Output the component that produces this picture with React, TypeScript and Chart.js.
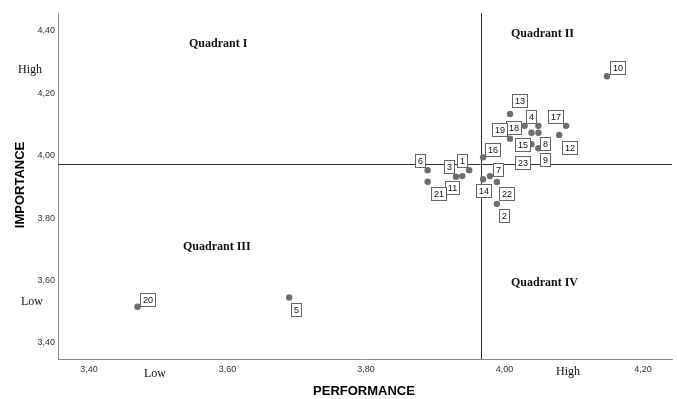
import React, { useEffect, useRef } from "react";
import { Chart, registerables } from "chart.js";

Chart.register(...registerables);

// ---- data ----
const pointIds = ["1","2","3","4","5","6","7","8","9","10","11","12","13","14","15","16","17","18","19","20","21","22","23"];
const performance = [3.949,3.989,3.930,4.029,3.689,3.889,3.979,4.049,4.049,4.148,3.939,4.079,4.008,3.969,4.039,3.969,4.089,4.049,4.008,3.470,3.889,3.989,4.039];
const importance = [3.954,3.846,3.933,4.096,3.546,3.954,3.935,4.074,4.024,4.255,3.935,4.067,4.134,3.925,4.074,3.995,4.096,4.096,4.055,3.516,3.917,3.916,4.037];
const xTickValues = [3.4, 3.6, 3.8, 4.0, 4.2];
const yTickValues = [3.4, 3.6, 3.8, 4.0, 4.2, 4.4];
const performanceMean = 3.966;
const importanceMean = 3.973;
const quadrantNames = ["Quadrant I", "Quadrant II", "Quadrant III", "Quadrant IV"];

// ---- label box placement (layout only, px offsets from point) ----
const labelOffsets: [number, number][] = [
  [-7,-10],[7,11],[-7,-11],[6,-10],[7,12],[-8,-10],[8,-7],[7,10],[7,11],[10,-9],
  [-10,11],[10,12],[9,-14],[0,11],[-10,11],[9,-8],[-11,-10],[-25,1],[-11,-10],[10,-8],
  [10,11],[9,11],[-10,18],
];

const fmt = (v: number) => v.toFixed(2).replace(".", ",");

export default function App() {
  const ref = useRef<HTMLCanvasElement | null>(null);

  useEffect(() => {
    if (!ref.current) return;
    const overlay = {
      id: "overlay",
      beforeDatasetsDraw(chart: any) {
        const { ctx, chartArea, scales } = chart;
        const xs = scales.x, ys = scales.y;
        ctx.save();
        ctx.strokeStyle = "#333333";
        ctx.lineWidth = 1;
        const vx = Math.round(xs.getPixelForValue(performanceMean)) + 0.5;
        const hy = Math.round(ys.getPixelForValue(importanceMean)) + 0.5;
        ctx.beginPath();
        ctx.moveTo(vx, chartArea.top);
        ctx.lineTo(vx, chartArea.bottom);
        ctx.moveTo(chartArea.left, hy);
        ctx.lineTo(chartArea.right, hy);
        ctx.stroke();
        ctx.restore();
      },
      afterDatasetsDraw(chart: any) {
        const { ctx, scales } = chart;
        const xs = scales.x, ys = scales.y;
        ctx.save();
        // point labels
        ctx.font = "9px 'Liberation Sans', Arial, sans-serif";
        ctx.textAlign = "center";
        ctx.textBaseline = "middle";
        pointIds.forEach((id, i) => {
          const px = xs.getPixelForValue(performance[i]);
          const py = ys.getPixelForValue(importance[i]);
          const [dx, dy] = labelOffsets[i];
          const cx = Math.round(px + dx);
          const cy = Math.round(py + dy);
          const w = Math.ceil(ctx.measureText(id).width) + 4;
          const h = 13;
          const left = Math.round(cx - w / 2) + 0.5;
          const top = Math.round(cy - h / 2) + 0.5;
          ctx.fillStyle = "#ffffff";
          ctx.fillRect(left, top, w, h);
          ctx.strokeStyle = "#666666";
          ctx.lineWidth = 1;
          ctx.strokeRect(left, top, w, h);
          ctx.fillStyle = "#111111";
          ctx.fillText(id, left + w / 2, top + h / 2 + 0.5);
        });
        // quadrant labels
        ctx.font = "bold 12px 'Liberation Serif', 'Times New Roman', serif";
        ctx.fillStyle = "#111111";
        ctx.textAlign = "left";
        ctx.textBaseline = "middle";
        ctx.fillText(quadrantNames[0], 189, 44);
        ctx.fillText(quadrantNames[1], 511, 34);
        ctx.fillText(quadrantNames[2], 183, 247);
        ctx.fillText(quadrantNames[3], 511, 283);
        // High / Low
        ctx.font = "12px 'Liberation Serif', 'Times New Roman', serif";
        ctx.textAlign = "center";
        ctx.fillText("High", 30, 70);
        ctx.fillText("Low", 32, 302);
        ctx.fillText("Low", 155, 374);
        ctx.fillText("High", 568, 372);
        // axis titles
        ctx.font = "bold 13px 'Liberation Sans', Arial, sans-serif";
        ctx.fillStyle = "#000000";
        ctx.fillText("PERFORMANCE", 364, 391);
        ctx.save();
        ctx.translate(20, 185);
        ctx.rotate(-Math.PI / 2);
        ctx.fillText("IMPORTANCE", 0, 0);
        ctx.restore();
        ctx.restore();
      },
    };

    const chart = new Chart(ref.current, {
      type: "scatter",
      data: {
        datasets: [
          {
            label: "Items",
            data: performance.map((x, i) => ({ x, y: importance[i] })),
            backgroundColor: "#6e6e6e",
            borderWidth: 0,
            pointRadius: 3.2,
            pointHoverRadius: 3.2,
          },
        ],
      },
      options: {
        animation: false,
        responsive: false,
        devicePixelRatio: 1,
        layout: { padding: { left: 0, right: 5, top: 13, bottom: 0 } },
        plugins: { legend: { display: false }, tooltip: { enabled: false } },
        scales: {
          x: {
            type: "linear",
            min: 3.3552,
            max: 4.2419,
            grid: { display: false, drawTicks: false },
            border: { display: true, color: "#8c8c8c", width: 1 },
            afterBuildTicks: (s: any) => { s.ticks = xTickValues.map((v) => ({ value: v })); },
            afterFit: (s: any) => { s.height = 40; },
            ticks: {
              autoSkip: false,
              maxRotation: 0,
              padding: 5,
              color: "#333333",
              font: { size: 9, family: "'Liberation Sans', Arial, sans-serif" },
              callback: (v: any) => fmt(Number(v)),
            },
          },
          y: {
            type: "linear",
            min: 3.3487,
            max: 4.4577,
            grid: { display: false, drawTicks: false },
            border: { display: true, color: "#8c8c8c", width: 1 },
            afterBuildTicks: (s: any) => { s.ticks = yTickValues.map((v) => ({ value: v })); },
            afterFit: (s: any) => { s.width = 58; },
            ticks: {
              autoSkip: false,
              padding: 3,
              color: "#333333",
              font: { size: 9, family: "'Liberation Sans', Arial, sans-serif" },
              callback: (v: any) => fmt(Number(v)),
            },
          },
        },
      },
      plugins: [overlay],
    } as any);
    return () => chart.destroy();
  }, []);

  return (
    <div style={{ position: "absolute", left: 0, top: 0, width: 677, height: 399, background: "#ffffff" }}>
      <canvas ref={ref} width={677} height={399} style={{ display: "block", width: 677, height: 399 }} />
    </div>
  );
}
